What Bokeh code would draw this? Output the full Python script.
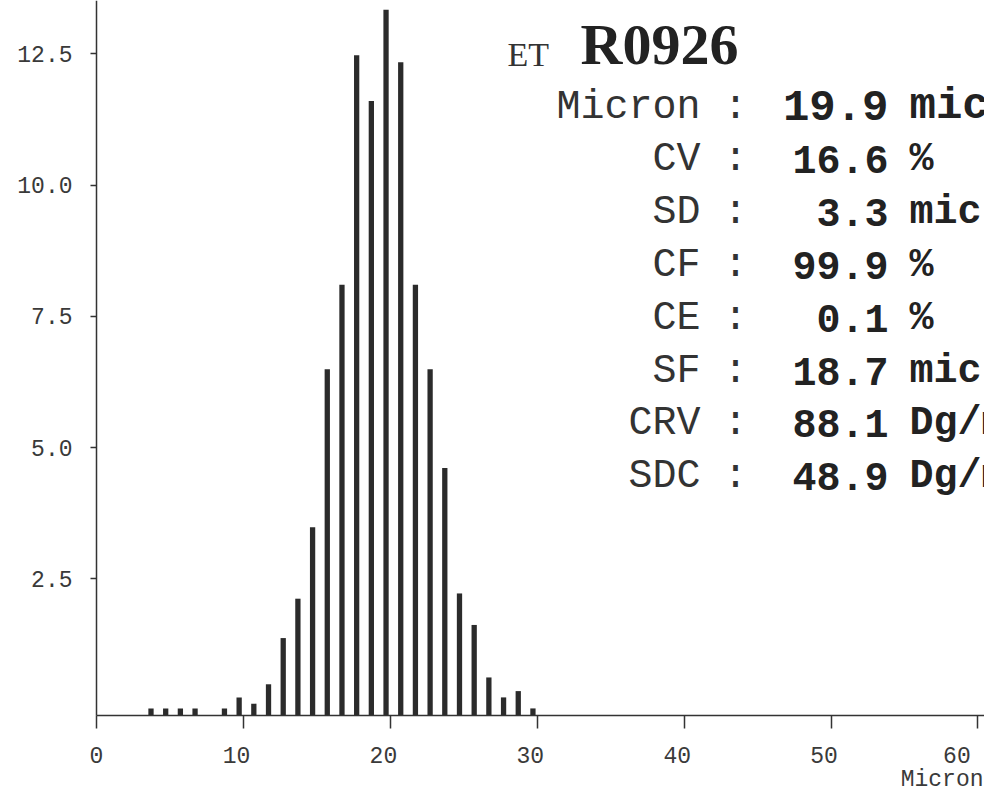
from bokeh.plotting import figure
from bokeh.models import Range1d, FixedTicker, Label
from bokeh.transform import dodge
from bokeh.embed import file_html
from bokeh.resources import INLINE

# ---------------- data ----------------
bins = [4, 5, 6, 7, 9, 10, 11, 12, 13, 14, 15, 16, 17, 18, 19, 20,
        21, 22, 23, 24, 25, 26, 27, 28, 29, 30]
pct = [0.03, 0.03, 0.03, 0.03, 0.03, 0.24, 0.12, 0.49, 1.37, 2.12, 3.48,
       6.49, 8.10, 12.47, 11.60, 13.34, 12.34, 8.10, 6.49, 4.61, 2.22,
       1.62, 0.62, 0.24, 0.36, 0.03]

x_ticks = [0, 10, 20, 30, 40, 50, 60]
x_tick_labels = ["0", "10", "20", "30", "40", "50", "60"]
y_ticks = [2.5, 5.0, 7.5, 10.0, 12.5]
y_tick_labels = ["2.5", "5.0", "7.5", "10.0", "12.5"]

sample_prefix = "ET"
sample_id = "R0926"
stat_names = ["Micron", "CV", "SD", "CF", "CE", "SF", "CRV", "SDC"]
stat_values = ["19.9", "16.6", "3.3", "99.9", "0.1", "18.7", "88.1", "48.9"]
stat_units = ["mic", "%", "mic", "%", "%", "mic", "Dg/mm", "Dg/mm"]
x_title = "Micron"

# ---------------- layout ----------------
W, H = 984, 789
AXIS_X = 96          # y-axis line (canvas px)
AXIS_Y = 715         # x-axis line (canvas px)
PPX = 14.69          # px per micron
PPY = 52.5           # px per percent
XL = -AXIS_X / PPX                # value at canvas left
X1 = (W - AXIS_X) / PPX           # value at canvas right
Y0 = -5.5 / PPY                   # value at the x-axis line
Y1 = Y0 + AXIS_Y / PPY            # value at canvas top
YB = Y0 - (H - AXIS_Y) / PPY      # value at canvas bottom

MONO = "Liberation Mono"
SERIF = "Liberation Serif"
INK = "#2b2b2b"

p = figure(width=W, height=H, output_backend="svg", toolbar_location=None,
           x_range=Range1d(XL, X1), y_range=Range1d(YB, Y1),
           min_border_left=0, min_border_right=0,
           min_border_top=0, min_border_bottom=0)
p.background_fill_color = "white"
p.border_fill_color = "white"
p.outline_line_color = None
p.grid.visible = False

# bars
p.vbar(x=dodge("x", -0.29), top="top", bottom=Y0, width=0.36,
       source=dict(x=bins, top=pct), fill_color=INK, line_color=None)

# axes
for ax in (p.xaxis[0], p.yaxis[0]):
    ax.axis_line_color = "#333333"
    ax.axis_line_width = 1.5
    ax.major_tick_line_color = "#333333"
    ax.major_tick_line_width = 1.5
    ax.minor_tick_line_color = None
    ax.major_tick_in = 0
    ax.major_label_text_font = MONO
    ax.major_label_text_font_size = "23px"
    ax.major_label_text_color = "#3a3a3a"

xa = p.xaxis[0]
xa.fixed_location = Y0
xa.bounds = (0, X1)
xa.ticker = FixedTicker(ticks=x_ticks)
# two-digit labels sit slightly left of their ticks in the original print
xa.major_label_overrides = {t: (l + "\u00a0" if len(l) == 2 else l)
                            for t, l in zip(x_ticks, x_tick_labels)}
xa.major_tick_out = 13
xa.major_label_standoff = 15

ya = p.yaxis[0]
ya.fixed_location = 0
ya.bounds = (Y0, Y1)
ya.ticker = FixedTicker(ticks=y_ticks)
ya.major_label_overrides = {t: l for t, l in zip(y_ticks, y_tick_labels)}
ya.major_tick_out = 6
ya.major_label_standoff = 18


# canvas-pixel -> data helpers
def px2x(px):
    return (px - AXIS_X) / PPX


def py2y(py):
    return Y1 - py / PPY


def lab(text, px, py, font, size, style="normal", align="left",
        color="#333333"):
    # py is the wanted glyph baseline; the renderer sits text a bit low
    k = 0.31 if font == MONO else 0.39
    py = py - k * size
    p.add_layout(Label(x=px2x(px), y=py2y(py), text=text, text_font=font,
                       text_font_size=f"{size}px", text_font_style=style,
                       text_align=align, text_baseline="alphabetic",
                       text_color=color))


# title
lab(sample_prefix, 507, 67, SERIF, 34, color="#333333")
lab(sample_id, 580, 67, SERIF, 58, style="bold", color="#222222")

# stats block
for i, (n, v, u) in enumerate(zip(stat_names, stat_values, stat_units)):
    base = 119 + i * 52.8
    vsize = 44 if i == 0 else 40
    lab(n, 700, base, MONO, 40, align="right", color="#333333")
    lab(":", 735, base, MONO, 40, align="center", color="#333333")
    lab(v, 888, base, MONO, vsize, style="bold", align="right", color="#222222")
    lab(u, 909, base, MONO, vsize, style="bold", color="#222222")

# x-axis title at the lower right
lab(x_title, 983, 787, MONO, 23, align="right", color="#3a3a3a")

open("out.html", "w").write(file_html(p, INLINE))
